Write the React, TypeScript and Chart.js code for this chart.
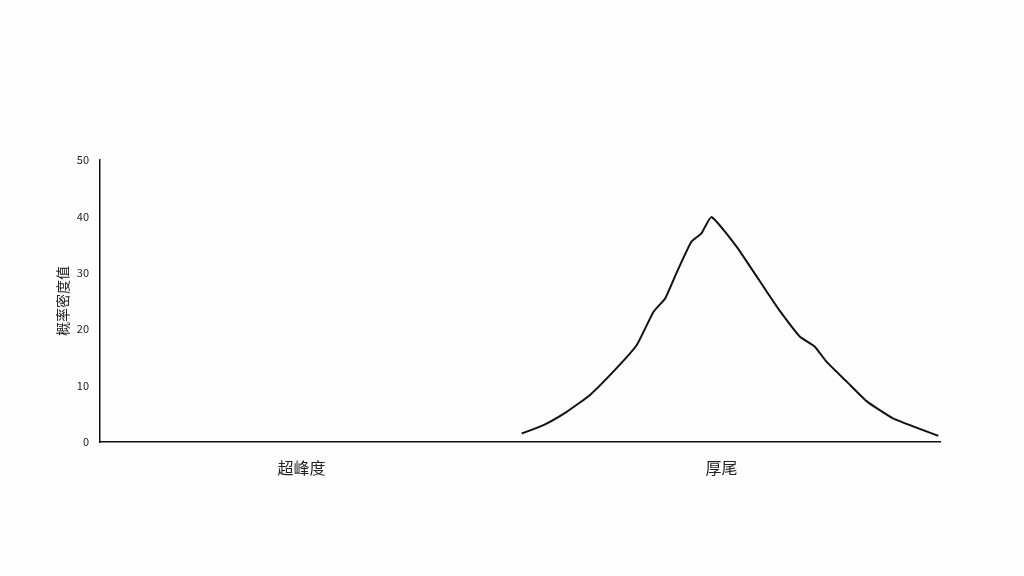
import React, { useEffect, useRef } from "react";
import { Chart, registerables } from "chart.js";

Chart.register(...registerables);

const xValues = [50.2, 52.8, 55.6, 58.3, 61.5, 63.9, 65.9, 67.3, 68.7, 70.4, 71.6, 72.8, 75.8, 79.4, 81.0, 83.3, 85.1, 86.5, 88.9, 91.3, 94.4, 99.8];
const yValues = [1.5, 3.0, 5.4, 8.3, 13.1, 17.2, 23.1, 25.5, 30.2, 35.5, 37.0, 39.9, 34.6, 26.6, 23.1, 18.7, 16.9, 14.2, 10.7, 7.2, 4.2, 1.1];
const xTickValues = [24, 74];
const xTickLabels = ["超峰度", "厚尾"];
const yTitle = "概率密度值";

const FONT = "'Noto Sans CJK SC', 'Noto Sans', sans-serif";

export default function App() {
  const ref = useRef<HTMLCanvasElement | null>(null);

  useEffect(() => {
    if (!ref.current) return;
    const chart = new Chart(ref.current, {
      type: "scatter",
      data: {
        datasets: [
          {
            data: xValues.map((x, i) => ({ x, y: yValues[i] })),
            showLine: true,
            borderColor: "#111111",
            borderWidth: 2,
            pointRadius: 0,
            tension: 0.15,
          },
        ],
      },
      options: {
        animation: false,
        responsive: false,
        maintainAspectRatio: false,
        layout: { padding: { top: 160, right: 84, left: 0, bottom: 0 } },
        plugins: { legend: { display: false }, tooltip: { enabled: false } },
        scales: {
          x: {
            type: "linear",
            min: 0,
            max: 100,
            grid: { display: false, drawTicks: false },
            border: { display: true, color: "#111111", width: 1.5 },
            afterBuildTicks: (s: any) => {
              s.ticks = xTickValues.map((v) => ({ value: v }));
            },
            afterFit: (s: any) => {
              s.height = 134;
            },
            ticks: {
              padding: 16,
              color: "#222222",
              font: { family: FONT, size: 16 },
              callback: (v: any) => {
                const i = xTickValues.indexOf(Number(v));
                return i >= 0 ? xTickLabels[i] : "";
              },
            },
          },
          y: {
            min: 0,
            max: 50,
            grid: { display: false, drawTicks: true, tickLength: 3, tickColor: "#111111" },
            border: { display: true, color: "#111111", width: 1.5 },
            afterFit: (s: any) => {
              s.width = 100;
            },
            ticks: {
              stepSize: 10,
              padding: 8,
              color: "#222222",
              font: { family: FONT, size: 11 },
            },
            title: {
              display: true,
              text: yTitle,
              color: "#222222",
              font: { family: FONT, size: 14 },
              padding: { top: 54, bottom: 0 },
            },
          },
        },
      },
    });
    return () => chart.destroy();
  }, []);

  return (
    <div style={{ position: "fixed", left: 0, top: 0, width: 1024, height: 576, background: "#fefefe" }}>
      <canvas ref={ref} width={1024} height={576} style={{ width: 1024, height: 576 }} />
    </div>
  );
}
